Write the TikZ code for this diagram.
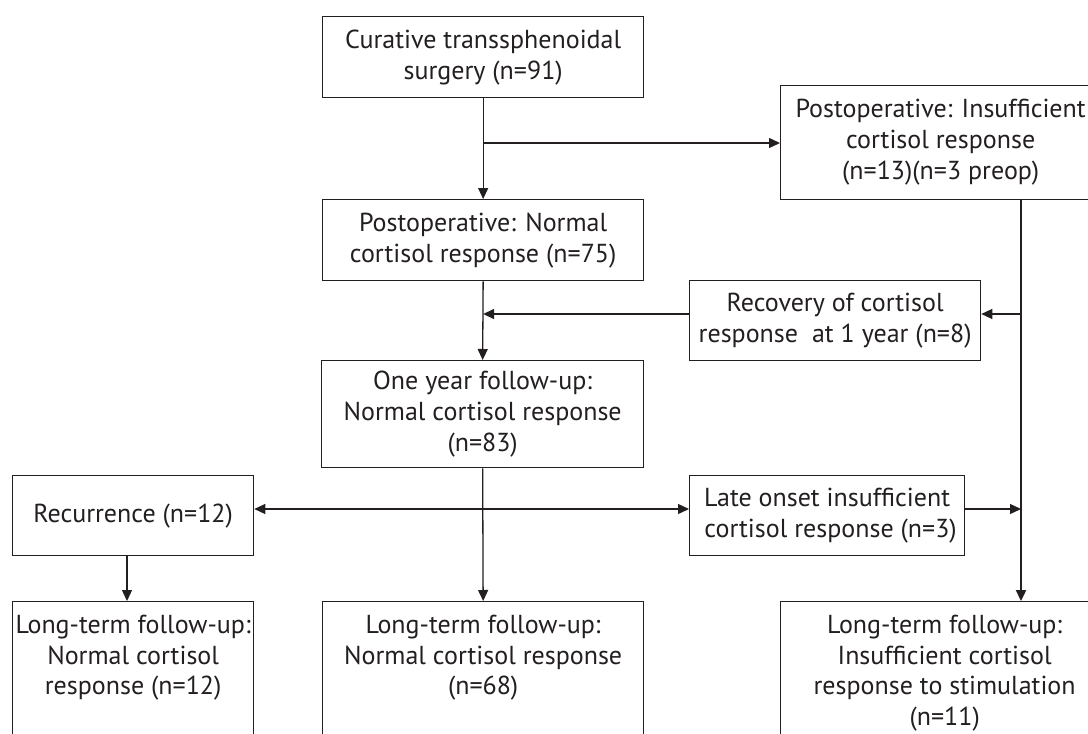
\documentclass[tikz,border=0pt]{standalone}
\usepackage{fontspec}
\setmainfont{PT Sans}
\usetikzlibrary{arrows.meta}
\definecolor{ink}{HTML}{231F20}
\begin{document}
\begin{tikzpicture}[x=1pt,y=-1pt,
  box/.style={draw=ink, line width=1.3pt, rectangle, inner sep=0pt, anchor=north west,
              text=ink, align=center, font=\fontsize{26}{31}\selectfont},
  txt/.style={text=ink, align=center, inner sep=0pt, font=\fontsize{26}{30.5}\selectfont},
  conn/.style={draw=ink, line width=1.3pt, -{Triangle[length=11pt,width=10pt]}},
  trunk/.style={draw=ink, line width=2.3pt, -{Triangle[length=11pt,width=10pt]}}
]
\useasboundingbox (0,0) rectangle (1088,734);
\clip (0,0) rectangle (1088,734);
\fill[white] (0,0) rectangle (1088,734);

% boxes
\node[box, minimum width=321pt, minimum height=81pt] (b1) at (322,16)
  {Curative transsphenoidal\\surgery (n=91)};
\node[box, minimum width=320pt, minimum height=114pt] (pi) at (780,85)
  {Postoperative: Insufficient\\cortisol response\\(n=13)(n=3 preop)};
\node[box, minimum width=321pt, minimum height=81pt] (b2) at (322,199)
  {Postoperative: Normal\\cortisol response (n=75)};
\node[box, minimum width=291pt, minimum height=80pt] (rec) at (689,280)
  {Recovery of cortisol\\response\ \ at 1 year (n=8)};
\node[box, minimum width=322pt, minimum height=107pt] (b3) at (321,360)
  {One year follow-up:\\Normal cortisol response\\(n=83)};
\node[box, minimum width=241pt, minimum height=80pt] (rc) at (12,475)
  {Recurrence (n=12)};
\node[box, minimum width=275pt, minimum height=80pt] (late) at (689,475)
  {Late onset insufficient\\\ cortisol response (n=3)};

% bottom boxes (cut by the lower edge)
\node[box, minimum width=241pt, minimum height=150pt] (l1) at (12,601) {};
\node[box, minimum width=321pt, minimum height=150pt] (l2) at (322,601) {};
\node[box, minimum width=328pt, minimum height=150pt] (l3) at (780,601) {};
\node[txt, anchor=north] (l1t) at ([yshift=-14pt]l1.north)
  {Long-term follow-up:\\Normal cortisol\\response (n=12)};
\node[txt, anchor=north] (l2t) at ([yshift=-14pt]l2.north)
  {Long-term follow-up:\\Normal cortisol response\\(n=68)};
\node[txt, anchor=north] (l3t) at ([yshift=-14pt]l3.north)
  {Long-term follow-up:\\Insufficient cortisol\\response to stimulation\\(n=11)};

% junction coordinates
\coordinate (j1) at (482.5,143);
\coordinate (rtx) at (1021,0);
\coordinate (r1) at (1021,314);
\coordinate (d1) at (482.5,509);
\coordinate (lx) at (127,0);

% connectors
\draw[conn] (b1.south) -- (b2.north);
\draw[conn] (j1) -- (j1 -| pi.west);
\draw[trunk] (rtx |- pi.south) -- (rtx |- l3.north);
\draw[conn] (r1) -- (r1 -| rec.east);
\draw[conn] (rec.west |- r1) -- (r1 -| b2.south);
\draw[conn] (b2.south) -- (b3.north);
\draw[conn] (b3.south) -- (l2.north);
\draw[draw=ink, line width=1.3pt, {Triangle[length=11pt,width=10pt]}-{Triangle[length=11pt,width=10pt]}]
  (rc.east |- d1) -- (late.west |- d1);
\draw[conn] (late.east |- d1) -- (rtx |- d1);
\draw[conn] (lx |- rc.south) -- (lx |- l1.north);
\end{tikzpicture}
\end{document}
